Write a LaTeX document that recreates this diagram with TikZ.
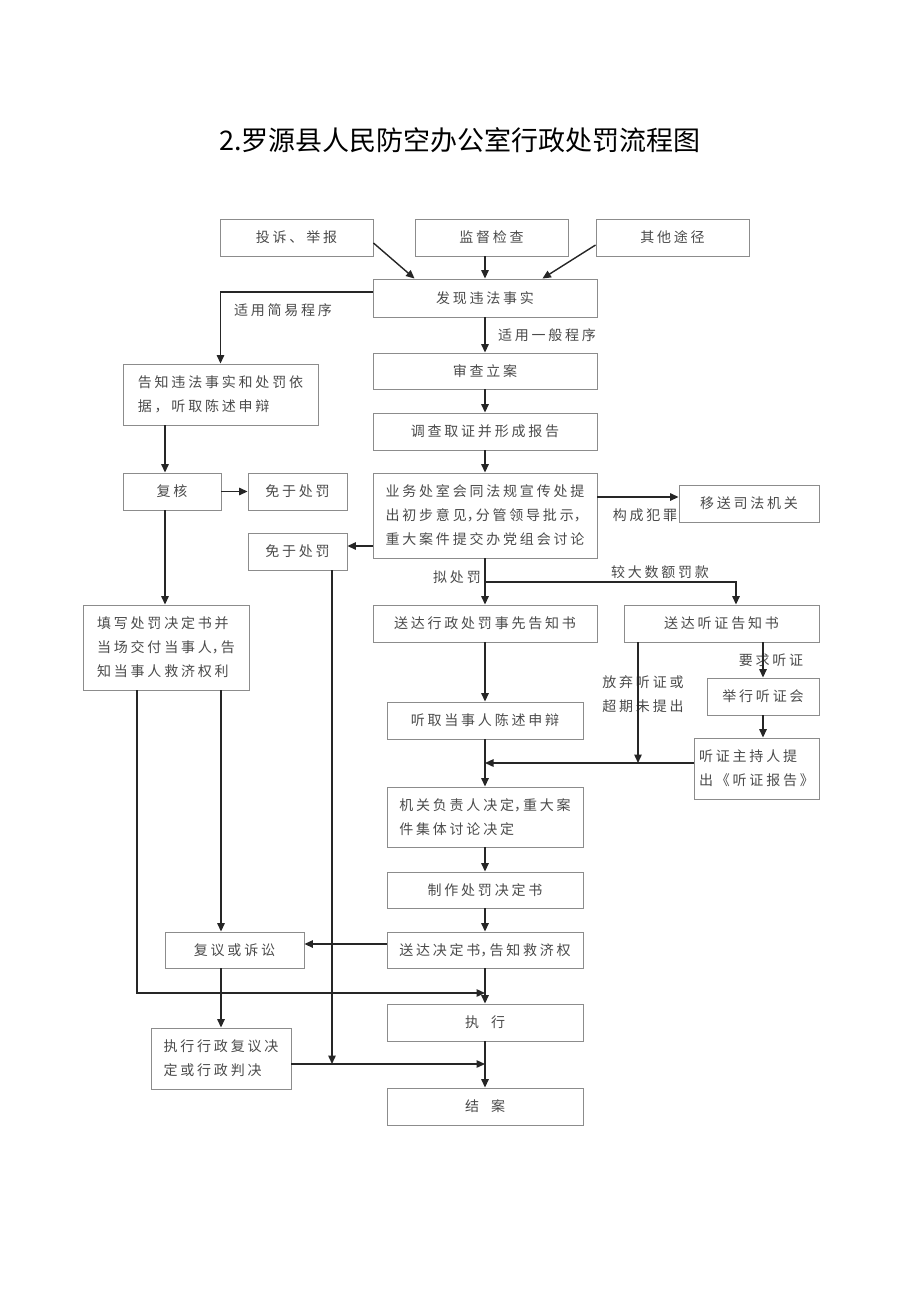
\documentclass[tikz,border=0pt]{standalone}
\usepackage{fontspec}
\setmainfont{Noto Sans CJK SC}
\newfontfamily\cjk[LetterSpace=20]{Noto Sans CJK SC}
\newfontfamily\titlefont{Noto Sans CJK SC}
\newcommand\nrwcomma{\makebox[9pt][l]{，}}
\usetikzlibrary{arrows.meta,calc}
\definecolor{boxgray}{HTML}{8C8C8C}
\definecolor{txtgray}{HTML}{4A4A4A}
\definecolor{arrgray}{HTML}{262626}
\begin{document}
\begin{tikzpicture}[x=1pt,y=-1pt,
  box/.style 2 args={draw=boxgray,line width=0.9pt,inner sep=0pt,minimum width=#1pt,minimum height=#2pt,
    font=\cjk\fontsize{14}{24}\selectfont,text=txtgray},
  arr/.style={draw=arrgray,line width=1.4pt,-{Triangle[length=8.5pt,width=7.5pt]}},
  lbl/.style={font=\cjk\fontsize{14}{24}\selectfont,text=txtgray,inner sep=0pt}]
\path[use as bounding box] (0,0) rectangle (920,1301);
\node[font=\titlefont\fontsize{27}{30}\selectfont,text=black] (title) at (460,140) {2.罗源县人民防空办公室行政处罚流程图};

% boxes
\node[box={153}{37}] (ts) at (296.5,237.5) {投诉、举报};
\node[box={153}{37}] (jd) at (491.5,237.5) {监督检查};
\node[box={153}{37}] (qt) at (672.5,237.5) {其他途径};
\node[box={224}{38}] (fx) at (485,298) {发现违法事实};
\node[box={195}{61},align=left] (gz) at (220.5,394.5) {告知违法事实和处罚依\\据，听取陈述申辩};
\node[box={224}{36}] (sc) at (485,371) {审查立案};
\node[box={224}{37}] (dc) at (485,431.5) {调查取证并形成报告};
\node[box={98}{37}] (fh) at (172,491.5) {复核};
\node[box={99}{37}] (mz1) at (297.5,491.5) {免于处罚};
\node[box={224}{85},align=left] (yw) at (485,515.5) {业务处室会同法规宣传处提\\出初步意见\nrwcomma 分管领导批示\nrwcomma\\重大案件提交办党组会讨论};
\node[box={99}{37}] (mz2) at (297.5,551.5) {免于处罚};
\node[box={140}{37}] (ys) at (749,503.5) {移送司法机关};
\node[box={224}{37}] (sdxz) at (485,623.5) {送达行政处罚事先告知书};
\node[box={195}{37}] (sdtz) at (721.5,623.5) {送达听证告知书};
\node[box={166}{85},align=left] (tx) at (166,647.5) {填写处罚决定书并\\当场交付当事人\nrwcomma 告\\知当事人救济权利};
\node[box={196}{37}] (tq) at (485,720.5) {听取当事人陈述申辩};
\node[box={112}{37}] (jx) at (763,696.5) {举行听证会};
\node[box={125}{61},align=left] (zcr) at (756.5,768.5) {听证主持人提\\出《听证报告》};
\node[box={196}{60},align=left] (jg) at (485,817) {机关负责人决定\nrwcomma 重大案\\件集体讨论决定};
\node[box={196}{36}] (zz) at (485,890) {制作处罚决定书};
\node[box={196}{36}] (sdjd) at (485,950) {送达决定书\nrwcomma 告知救济权};
\node[box={139}{36}] (fy) at (234.5,950) {复议或诉讼};
\node[box={196}{37}] (zx) at (485,1022.5) {执\hspace{12pt}行};
\node[box={140}{61},align=left] (zxfy) at (221,1058.5) {执行行政复议决\\定或行政判决};
\node[box={196}{37}] (ja) at (485,1106.5) {结\hspace{12pt}案};

% labels
\node[lbl] (l1) at (283,310) {适用简易程序};
\node[lbl] (l2) at (547,335) {适用一般程序};
\node[lbl] (l3) at (645,515) {构成犯罪};
\node[lbl] (l4) at (457,577) {拟处罚};
\node[lbl] (l5) at (660,572) {较大数额罚款};
\node[lbl] (l6) at (771,660) {要求听证};
\node[lbl,align=left] (l7) at (643,694) {放弃听证或\\超期未提出};

% coordinates
\coordinate (gzx) at (165,0);
\coordinate (tzx) at (736,0);
\coordinate (jxx) at (763,0);
\coordinate (txc) at (221,0);
\coordinate (br) at (485,582);
\coordinate (fqx) at (638,763);
\coordinate (hz) at (485,763);
\coordinate (txa) at (137,993);
\coordinate (txb) at (485,993);
\coordinate (mzb) at (332,1064);
\coordinate (ja1) at (485,1064);
\coordinate (a1) at ($(yw.west)+(0,30.5)$);
\coordinate (a2) at ($(yw.east)+(0,-18.5)$);
\coordinate (a3) at ($(sdjd.west)+(0,-6)$);

% connectors
\draw[arr] ($(ts.east)+(0,5.5)$) -- ($(fx.north west)+(42,0)$);
\draw[arr] ($(qt.west)+(0,7.5)$) -- ($(fx.north east)+(-55,0)$);
\draw[arr] (jd.south -| fx.north) -- (fx.north);
\draw[arr] ($(fx.west)+(0,-6)$) -| (gz.north);
\draw[arr] (fx.south) -- (sc.north);
\draw[arr] (sc.south) -- (dc.north);
\draw[arr] (dc.south) -- (yw.north);
\draw[arr] (gz.south -| gzx) -- (fh.north -| gzx);
\draw[arr] (fh.east) -- (mz1.west);
\draw[arr] (a1) -- (a1 -| mz2.east);
\draw[arr] (a2) -- (a2 -| ys.west);
\draw[arr] (yw.south) -- (sdxz.north);
\draw[arr] (br) -| (sdtz.north -| tzx);
\draw[arr] (fh.south -| gzx) -- (tx.north -| gzx);
\draw[arr] (sdxz.south) -- (tq.north);
\draw[arr] (sdtz.south -| jxx) -- (jx.north -| jxx);
\draw[arr] (jx.south -| jxx) -- (zcr.north -| jxx);
\draw[arr] (sdtz.south -| fqx) -- (fqx);
\draw[arr] (zcr.west |- hz) -- (hz);
\draw[arr] (tq.south) -- (jg.north);
\draw[arr] (jg.south) -- (zz.north);
\draw[arr] (zz.south) -- (sdjd.north);
\draw[arr] (a3) -- (a3 -| fy.east);
\draw[arr] (tx.south -| txa) -- (txa) -- (txb);
\draw[arr] (tx.south -| txc) -- (fy.north -| txc);
\draw[arr] (fy.south -| txc) -- (zxfy.north -| txc);
\draw[arr] (mz2.south -| mzb) -- (mzb);
\draw[arr] (zxfy.east |- ja1) -- (ja1);
\draw[arr] (sdjd.south) -- (zx.north);
\draw[arr] (zx.south) -- (ja.north);
\end{tikzpicture}
\end{document}
